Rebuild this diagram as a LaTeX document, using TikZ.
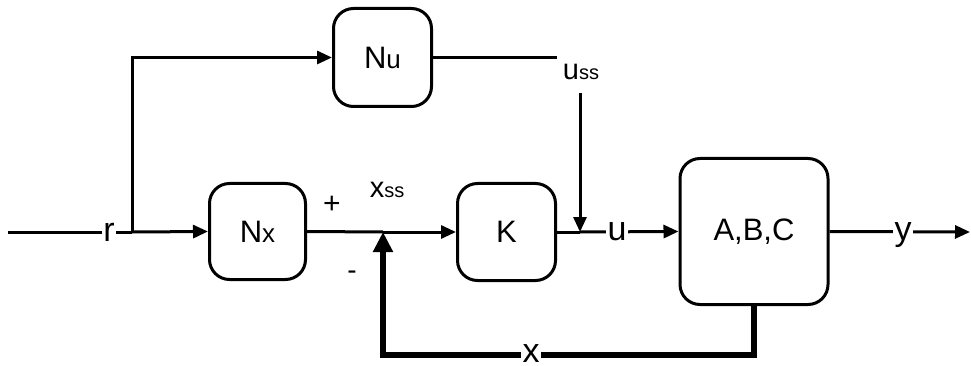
\documentclass[tikz,border=0pt]{standalone}
\usepackage{fontspec}
\setmainfont{Liberation Sans}
\usetikzlibrary{arrows.meta}
\newcommand{\fsz}[1]{\fontsize{#1}{#1}\selectfont}
\begin{document}
\begin{tikzpicture}[x=1pt,y=-1pt,
  blk/.style={draw, line width=3pt, rounded corners=20pt, inner sep=0pt, font=\fsz{31}},
  ln/.style={line width=3pt},
  arr/.style={ln, -{Triangle[length=15pt,width=13pt]}},
  thk/.style={line width=6.5pt, line join=miter, -{Triangle[length=20pt,width=19pt]}},
  lbl/.style={fill=white, inner sep=1.5pt, text depth=0pt, font=\fsz{34}},
  sgn/.style={inner sep=0pt}
]
\useasboundingbox (0,0) rectangle (971,366);
% blocks
\node[blk, minimum width=96pt, minimum height=96pt] (nx) at (257.5,231.5) {N\fsz{26}x};
\node[blk, minimum width=98pt, minimum height=98pt] (nu) at (382.5,57.5) {N\fsz{26}u};
\node[blk, minimum width=98pt, minimum height=97pt] (k) at (506.5,232) {K};
\node[blk, minimum width=148pt, minimum height=146pt] (abc) at (754,231.5) {A,B,C};
% coordinates
\coordinate (start) at (8,232);
\coordinate (j1) at (132,232);
\coordinate (sum) at (383,232);
\coordinate (j3) at (580,232);
\coordinate (ussend) at (557,57.5);
\coordinate (usstop) at (580,93);
\coordinate (fb1) at (754,355);
\coordinate (fb2) at (383,355);
\coordinate (out) at (970,232);
% connectors
\draw[ln] (start) -- (j1);
\draw[arr] (j1) -- (nx.west);
\draw[arr, line join=miter] (j1) |- (nu.west);
\draw[ln] (nu.east) -- (ussend);
\draw[arr] (usstop) -- (j3);
\draw[ln] (nx.east) -- (sum);
\draw[arr] (sum) -- (k.west);
\draw[ln] (k.east) -- (j3);
\draw[arr] (j3) -- (abc.west);
\draw[arr] (abc.east) -- (out);
\draw[thk] (abc.south) -- (fb1) -- (fb2) -- (sum);
% labels on lines
\node[lbl] (rl) at (109,232) {r};
\node[lbl] (ul) at (617,232) {u};
\node[lbl] (yl) at (903,232) {y};
\node[lbl] (xl) at (531,354) {x};
% other texts
\node[sgn, anchor=base] (ussl) at (581,80) {\fsz{29}u\fsz{20}ss};
\node[sgn, anchor=base] (xssl) at (387,197) {\fsz{29}x\fsz{20}ss};
\node[sgn] (plus) at (332,205) {\fsz{30}+};
\node[sgn] (minus) at (352,275) {\fsz{28}-};
\end{tikzpicture}
\end{document}
